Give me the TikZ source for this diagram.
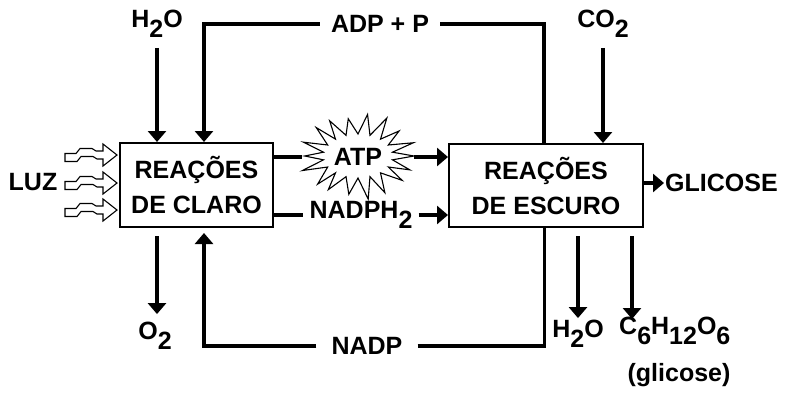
\documentclass[tikz,border=0pt]{standalone}
\usepackage{fontspec}
\setmainfont{Liberation Sans}
\usetikzlibrary{arrows.meta,calc}
\newcommand{\sbs}[1]{\raisebox{-10pt}{#1}}
\begin{document}
\begin{tikzpicture}[x=1pt,y=-1pt,
  lbl/.style={font=\fontsize{25}{30}\selectfont\bfseries, inner sep=2pt},
  box/.style={draw, line width=2pt, align=center,
    font=\fontsize{25}{35}\selectfont\bfseries, inner sep=0pt},
  conn/.style={line width=3.2pt},
  arr/.style={conn,-{Triangle[length=11pt,width=18pt]}},
  light/.style={draw, line width=1.1pt, fill=white, line join=miter},
  burst/.style={draw, line width=1.1pt, fill=white, line join=miter},
]
\useasboundingbox (0,0) rectangle (786,392);

% boxes
\node[box, minimum width=153pt, minimum height=84pt] (lbox) at (196.5,185) {REAÇÕES\\DE CLARO};
\node[box, minimum width=194pt, minimum height=83pt] (rbox) at (546,185.5) {REAÇÕES\\DE ESCURO};

% starburst behind ATP
\draw[burst] plot[samples at={0,...,35}, variable=\k]
  ({358+(mod(\k,2)==0 ? 56*(1+0.06*sin(\k*97)) : 35)*cos(\k*10)},
   {156+(mod(\k,2)==0 ? 41*(1+0.08*cos(\k*131)) : 22)*sin(\k*10)}) -- cycle;

% labels
\node[lbl] (luz) at (33,182) {LUZ};
\node[lbl] (h2otop) at (157,24) {H\sbs{2}O};
\node[lbl, inner xsep=11pt] (adp) at (380,24) {ADP + P};
\node[lbl] (co2) at (603,24) {CO\sbs{2}};
\node[lbl, minimum width=112pt, minimum height=40pt, inner sep=0pt] (atp) at (358,157) {ATP};
\node[lbl, inner xsep=6pt] (nadph) at (361,215) {NADPH\sbs{2}};
\node[lbl, anchor=west, inner sep=1pt] (glic) at (664,183) {GLICOSE};
\node[lbl] (o2) at (155,336) {O\sbs{2}};
\node[lbl, inner xsep=15pt] (nadp) at (367,346) {NADP};
\node[lbl] (h2obot) at (578,334) {H\sbs{2}O};
\node[lbl, anchor=north west, inner sep=0pt] (c6) at (619,317) {C\sbs{6}H\sbs{12}O\sbs{6}};
\node[lbl] (glicose) at (679,375) {(glicose)};

% light arrows
\foreach \yy in {153.5,181.5,208.5}{
  \draw[light] (65,\yy) -- ++(11,0) -- ++(4,-5) -- ++(12,0) -- ++(4,2.5) -- ++(7,0)
     -- ++(0,-7) -- ++(14,11) -- ++(-14,11) -- ++(0,-7) -- ++(-6,0) -- ++(-4,-2.5)
     -- ++(-12,0) -- ++(-4,5) -- ++(-12,0) -- cycle;
}

% top connectors
\draw[arr] ([yshift=-8pt]h2otop.south) -- (h2otop.south |- lbox.north);
\draw[arr] (adp.west) -| ([xshift=7.5pt]lbox.north);
\draw[conn] (adp.east) -| ([xshift=-2pt]rbox.north);
\draw[arr] ([yshift=-8pt]co2.south) -- (co2.south |- rbox.north);

% middle connectors
\draw[conn] (lbox.east |- atp) -- (atp.west);
\draw[arr] (atp.east) -- (atp.east -| rbox.west);
\draw[conn] (lbox.east |- nadph) -- (nadph.west);
\draw[arr] (nadph.east) -- (nadph.east -| rbox.west);
\draw[arr] (rbox.east |- glic) -- (glic.west);

% bottom connectors
\draw[arr, shorten <=8pt] ([xshift=-39.5pt]lbox.south) -- ([xshift=2pt,yshift=6pt]o2.north);
\draw[arr] (nadp.west) -| ([xshift=7.5pt,yshift=-5pt]lbox.south);
\draw[conn] (nadp.east) -| ([xshift=-1.5pt]rbox.south);
\draw[arr, shorten <=8pt] ([xshift=32pt]rbox.south) -- ([xshift=32pt]rbox.south |- h2obot.north);
\draw[arr, shorten <=8pt] ([xshift=86pt]rbox.south) -- ([xshift=86pt,yshift=-2pt]rbox.south |- c6.north);
\end{tikzpicture}
\end{document}
